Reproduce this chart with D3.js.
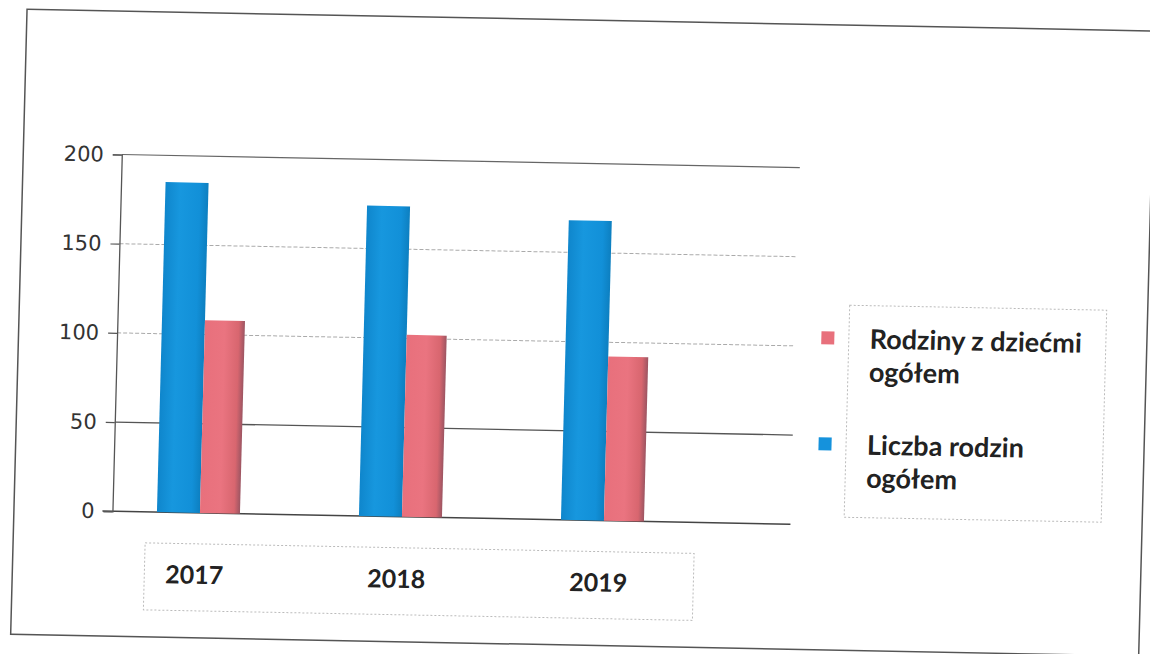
<!DOCTYPE html>
<html>
<head>
<meta charset="utf-8">
<script src="https://cdn.jsdelivr.net/npm/d3@7"></script>
<style>
  html, body { margin: 0; padding: 0; background: #fff; }
  svg { display: block; }
</style>
</head>
<body>
<svg id="chart" width="1150" height="654"></svg>
<script>
// ---- data ----
const years = ["2017", "2018", "2019"];
const liczbaRodzin = [185, 174, 168];      // Liczba rodzin ogółem (blue)
const rodzinyZDziecmi = [108, 102, 92];    // Rodziny z dziećmi ogółem (red)
const yTicks = [0, 50, 100, 150, 200];
const seriesNames = ["Rodziny z dziećmi ogółem", "Liczba rodzin ogółem"];

// ---- layout ----
const svg = d3.select("#chart");
const defs = svg.append("defs");

const blueGrad = defs.append("linearGradient").attr("id", "gBlue").attr("x1", "0").attr("x2", "1");
blueGrad.append("stop").attr("offset", "0").attr("stop-color", "#0f86cc");
blueGrad.append("stop").attr("offset", "0.35").attr("stop-color", "#1797de");
blueGrad.append("stop").attr("offset", "0.8").attr("stop-color", "#1290d8");
blueGrad.append("stop").attr("offset", "1").attr("stop-color", "#0d7fc0");

const redGrad = defs.append("linearGradient").attr("id", "gRed").attr("x1", "0").attr("x2", "1");
redGrad.append("stop").attr("offset", "0").attr("stop-color", "#e8707c");
redGrad.append("stop").attr("offset", "0.5").attr("stop-color", "#ea7480");
redGrad.append("stop").attr("offset", "0.85").attr("stop-color", "#d8666f");
redGrad.append("stop").attr("offset", "1").attr("stop-color", "#9c5562");

// scanned page is slightly skewed
const cx = 575, cy = 327;
const g = svg.append("g")
  .attr("transform", `translate(${cx},${cy}) matrix(1,0.0192,-0.0262,1,0,0) translate(${-cx},${-cy})`);

// outer frame
g.append("rect").attr("x", 19).attr("y", 20).attr("width", 1128).attr("height", 625)
  .attr("fill", "none").attr("stroke", "#555").attr("stroke-width", 1.5);

const plotLeft = 117.5, plotRight = 795.5;
const y = d3.scaleLinear().domain([0, 200]).range([520, 163.3]);
const x = d3.scaleBand().domain(years).range([104, 710]).padding(0);
const blueW = 43, redW = 40;

// gridlines
const gridStyle = {0: ["#444", null, 1.5], 50: ["#555", null, 1.3], 100: ["#aaa", "4,2", 1], 150: ["#aaa", "4,2", 1], 200: ["#666", null, 1.2]};
g.append("g").selectAll("line").data(yTicks).join("line")
  .attr("x1", d => d === 0 ? plotLeft - 10 : plotLeft)
  .attr("x2", plotRight)
  .attr("y1", d => y(d)).attr("y2", d => y(d))
  .attr("stroke", d => gridStyle[d][0])
  .attr("stroke-dasharray", d => gridStyle[d][1])
  .attr("stroke-width", d => gridStyle[d][2]);

// y axis
const yAxis = d3.axisLeft(y).tickValues(yTicks).tickSize(9).tickPadding(9);
const ya = g.append("g").attr("transform", `translate(${plotLeft},0)`).call(yAxis);
ya.select(".domain").attr("stroke", "#555").attr("stroke-width", 1.3);
ya.selectAll(".tick line").attr("stroke", "#555").attr("stroke-width", 1.2);
ya.selectAll(".tick text")
  .attr("font-family", "'DejaVu Sans', Verdana, sans-serif")
  .attr("font-size", 21).attr("fill", "#333");

// bars
const bars = g.append("g");
bars.selectAll("rect.blue").data(years).join("rect").attr("class", "blue")
  .attr("x", d => x(d) + x.bandwidth() / 2 - blueW)
  .attr("width", blueW)
  .attr("y", (d, i) => y(liczbaRodzin[i]))
  .attr("height", (d, i) => y(0) - y(liczbaRodzin[i]))
  .attr("fill", "url(#gBlue)");
bars.selectAll("rect.red").data(years).join("rect").attr("class", "red")
  .attr("x", d => x(d) + x.bandwidth() / 2)
  .attr("width", redW)
  .attr("y", (d, i) => y(rodzinyZDziecmi[i]))
  .attr("height", (d, i) => y(0) - y(rodzinyZDziecmi[i]))
  .attr("fill", "url(#gRed)");

// x label box
g.append("rect").attr("x", 151).attr("y", 551).attr("width", 549).attr("height", 67)
  .attr("fill", "none").attr("stroke", "#bbb").attr("stroke-width", 1).attr("stroke-dasharray", "2,2");
g.append("g").selectAll("text").data(years).join("text")
  .attr("x", d => x(d) + x.bandwidth() / 2 - 4)
  .attr("y", 591)
  .attr("text-anchor", "middle")
  .attr("font-family", "Lato, 'Open Sans', sans-serif")
  .attr("font-weight", "bold").attr("font-size", 25).attr("fill", "#222")
  .text(d => d);

// legend
g.append("rect").attr("x", 849).attr("y", 300).attr("width", 257).attr("height", 212)
  .attr("fill", "none").attr("stroke", "#bbb").attr("stroke-width", 1).attr("stroke-dasharray", "2,2");
const legendColors = ["#e8707c", "#1592dc"];
const legendLines = [["Rodziny z dziećmi", "ogółem"], ["Liczba rodzin", "ogółem"]];
const legendY = [343, 449];
const lg = g.append("g");
seriesNames.forEach((name, i) => {
  lg.append("rect").attr("x", 821.5).attr("y", legendY[i] - 16.5).attr("width", 13).attr("height", 13)
    .attr("fill", legendColors[i]);
  const t = lg.append("text").attr("x", 870).attr("y", legendY[i])
    .attr("font-family", "Lato, 'Open Sans', sans-serif")
    .attr("font-weight", "bold").attr("font-size", 27).attr("fill", "#222");
  legendLines[i].forEach((ln, j) => {
    t.append("tspan").attr("x", 870).attr("dy", j === 0 ? 0 : 33).text(ln);
  });
});
</script>
</body>
</html>
